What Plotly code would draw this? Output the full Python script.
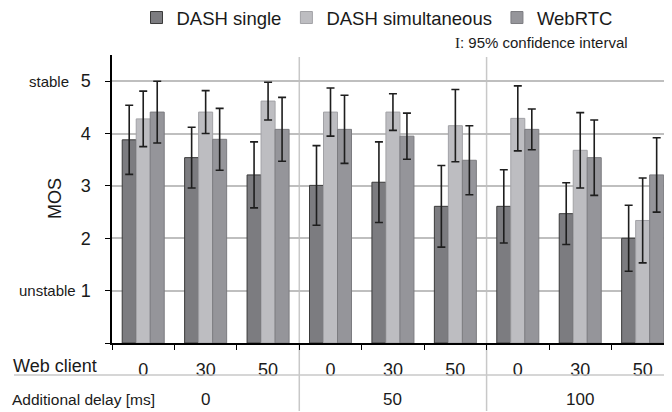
import plotly.graph_objects as go

# ---- data ----
web_client = ["0", "30", "50", "0", "30", "50", "0", "30", "50"]
delays = ["0", "50", "100"]
series = ["DASH single", "DASH simultaneous", "WebRTC"]
dash_single = [3.88, 3.54, 3.21, 3.01, 3.07, 2.61, 2.61, 2.47, 2.00]
dash_single_ci = [0.66, 0.58, 0.63, 0.76, 0.77, 0.78, 0.70, 0.59, 0.63]
dash_sim = [4.28, 4.41, 4.62, 4.41, 4.41, 4.15, 4.29, 3.68, 2.34]
dash_sim_ci = [0.53, 0.41, 0.36, 0.46, 0.35, 0.69, 0.62, 0.72, 0.81]
webrtc = [4.41, 3.89, 4.08, 4.08, 3.95, 3.49, 4.08, 3.54, 3.21]
webrtc_ci = [0.59, 0.59, 0.61, 0.65, 0.44, 0.66, 0.39, 0.72, 0.71]
y_ticks = [0, 1, 2, 3, 4, 5]
y_ticktext = ["", "1", "2", "3", "4", "5"]

FONT = "Liberation Sans, Arial, sans-serif"
OFF = 8  # default body margin of the html page
PW, PH = 672, 412  # page (window) size
W, H = PW - OFF, PH - OFF
ML, MR, MT, MB = 112 - OFF, 0, 55 - OFF, 69
XR = [-0.5, 8.47]
YR = [0, 5.5]

fills = ["#7c7c80", "#bdbdc1", "#95959a"]
borders = ["#3a3a3a", "#a2a2a6", "#7c7c80"]
vals = [dash_single, dash_sim, webrtc]
cis = [dash_single_ci, dash_sim_ci, webrtc_ci]

x = list(range(len(web_client)))
fig = go.Figure()
for name, v, ci, fc, bc in zip(series, vals, cis, fills, borders):
    fig.add_trace(go.Bar(
        x=x, y=v, name=name,
        marker=dict(color=fc, line=dict(color=bc, width=1)),
        error_y=dict(type="data", array=ci, visible=True,
                     color="#1e1e1e", thickness=1.6, width=4),
    ))

def px_x(p):
    return (p - OFF - ML) / (W - ML - MR)

def px_y(p):
    return (H - MB - (p - OFF)) / (H - MT - MB)

fig.update_layout(
    width=W, height=H,
    margin=dict(l=ML, r=MR, t=MT, b=MB, pad=0, autoexpand=False),
    plot_bgcolor="white", paper_bgcolor="white",
    barmode="group", bargap=0.327, bargroupgap=0,
    font=dict(family=FONT, size=17, color="#1a1a1a"),
    showlegend=True,
    legend=dict(orientation="h", xref="container", yref="container",
                x=(377 - OFF) / W, xanchor="center",
                y=1 - (18 - OFF) / H, yanchor="middle",
                font=dict(size=18.5), itemwidth=30, tracegroupgap=0,
                bgcolor="rgba(0,0,0,0)"),
    xaxis=dict(range=XR, tickmode="array", tickvals=x, ticktext=web_client,
               ticks="outside", ticklen=0, showline=True, linecolor="black",
               linewidth=1.5, showgrid=False, zeroline=False,
               tickfont=dict(size=18), ticklabelstandoff=10,
               minor=dict(tick0=0.5, dtick=1, ticks="outside", ticklen=5,
                          tickcolor="black", tickwidth=1.2, showgrid=False)),
    yaxis=dict(range=YR, tickmode="array", tickvals=y_ticks, ticktext=y_ticktext,
               ticks="outside", ticklen=5, tickcolor="black", tickwidth=1.2,
               showline=True, linecolor="black", linewidth=1.5,
               showgrid=True, gridcolor="#bfbfbf", gridwidth=1.5,
               zeroline=False, tickfont=dict(size=18), ticklabelstandoff=11),
)

# group dividers between delay groups
for b in [2.5, 5.5]:
    fig.add_shape(type="line", xref="x", yref="paper", x0=b, x1=b,
                  y0=px_y(411), y1=px_y(57),
                  line=dict(color="#c8c8c8", width=1.5), layer="below")

# line below the web client row
fig.add_shape(type="line", xref="paper", yref="paper",
              x0=px_x(14), x1=1, y0=px_y(375), y1=px_y(375),
              line=dict(color="#c8c8c8", width=1.5))

ann = []
ann.append(dict(text="Web client", xref="paper", yref="paper", x=px_x(11),
                y=px_y(366), xanchor="left", yanchor="middle",
                showarrow=False, font=dict(size=18)))
ann.append(dict(text="Additional delay [ms]", xref="paper", yref="paper",
                x=px_x(10), y=px_y(399), xanchor="left", yanchor="middle",
                showarrow=False, font=dict(size=15.5)))
for i, d in enumerate(delays):
    ann.append(dict(text=d, xref="x", yref="paper", x=i * 3 + 1,
                    y=px_y(399), xanchor="center", yanchor="middle",
                    showarrow=False, font=dict(size=17)))
ann.append(dict(text="MOS", xref="paper", yref="paper", x=px_x(55),
                y=px_y(199), textangle=-90, xanchor="center",
                yanchor="middle", showarrow=False, font=dict(size=18)))
ann.append(dict(text="stable", xref="paper", yref="y", x=px_x(71), y=5,
                xanchor="right", yanchor="middle", showarrow=False,
                font=dict(size=15)))
ann.append(dict(text="unstable", xref="paper", yref="y", x=px_x(78), y=1,
                xanchor="right", yanchor="middle", showarrow=False,
                font=dict(size=15)))
ann.append(dict(text="<span style='font-family:Liberation Serif, serif'>I</span>: 95% confidence interval",
                xref="paper", yref="paper", x=px_x(630), y=px_y(43),
                xanchor="right", yanchor="middle", showarrow=False,
                font=dict(size=15)))
fig.update_layout(annotations=ann)

fig.write_html("out.html")
